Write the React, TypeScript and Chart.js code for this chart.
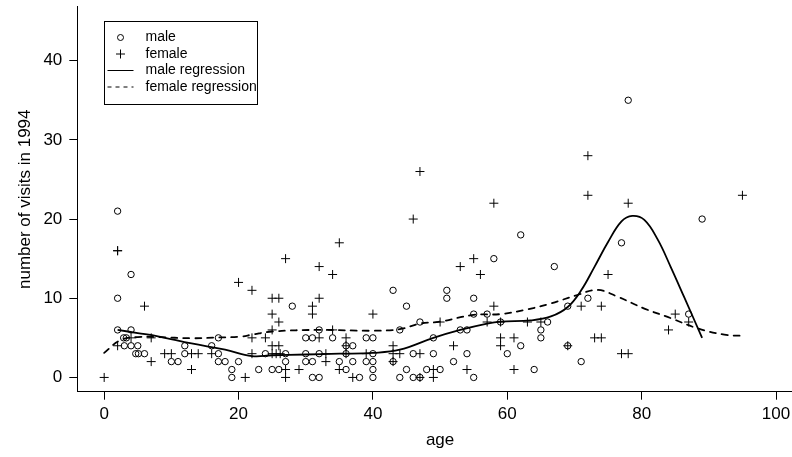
import { useEffect, useRef } from "react";
import { Chart, registerables } from "chart.js";

Chart.register(...registerables);

// ---- data ----
const maleAge = [
  2, 4, 2, 2, 4, 2.9, 3.3, 3, 4, 5, 4.7, 5.1, 6, 12, 12, 10, 11, 16, 17, 17, 17, 18, 20, 19, 19,
  28, 32, 30, 31, 34, 39, 40, 24, 27, 30, 32, 36, 40, 36, 37, 27, 30, 31, 35, 37, 39, 40, 43, 23, 25, 26, 36, 40, 31, 32, 38, 40, 44,
  45, 44, 47, 53, 54, 49, 46, 49, 54, 52, 45, 48, 50, 46, 47, 55, 55, 57, 59, 60, 62, 64, 65, 65, 66, 51, 55,
  51, 62, 58, 67, 72, 69, 43, 69, 71, 87, 77, 78, 89,
];
const maleVisits = [
  21, 13, 10, 6, 6, 5, 5, 4, 4, 4, 3, 3, 3, 4, 3, 2, 2, 4, 5, 3, 2, 2, 2, 1, 0,
  9, 6, 5, 5, 5, 5, 5, 3, 3, 3, 3, 3, 3, 4, 4, 2, 2, 2, 2, 2, 2, 2, 2, 1, 1, 1, 1, 1, 0, 0, 0, 0, 0,
  9, 6, 7, 6, 6, 5, 3, 3, 3, 2, 1, 1, 1, 0, 0, 0, 8, 8, 7, 3, 4, 1, 6, 5, 7, 10, 10,
  11, 18, 15, 14, 10, 9, 11, 4, 2, 8, 17, 35, 20,
];
const femaleAge = [
  0, 2, 4, 7, 6, 7, 9, 10, 13, 14, 16, 13, 21, 2, 2,
  20, 22, 27, 32, 34, 35, 25, 26, 32, 31, 31, 25, 40, 26, 25, 34, 22, 24, 32, 36, 25, 26, 36, 43, 22, 25, 25.6, 26.2, 33, 36, 39, 43, 44, 33, 43, 27, 29, 35, 27, 37,
  47, 46, 58, 55, 53, 56, 58, 57, 59, 63, 65, 50, 59, 61, 59, 52, 47, 61, 49, 54, 47, 49,
  71, 74, 72, 72, 78, 95, 75, 85, 87, 84, 73, 74, 77, 78, 69,
];
const femaleVisits = [
  0, 4, 5, 5, 9, 2, 3, 3, 3, 3, 3, 1, 0, 16, 16,
  12, 11, 15, 14, 13, 17, 10, 10, 10, 9, 8, 8, 8, 7, 6, 6, 5, 5, 5, 5, 4, 4, 4, 4, 3, 3, 3, 3, 3, 3, 3, 3, 3, 2, 2, 1, 1, 1, 0, 0,
  26, 20, 22, 15, 14, 13, 9, 7, 7, 7, 7, 7, 5, 5, 4, 4, 3, 1, 1, 1, 0, 0,
  9, 9, 28, 23, 22, 23, 13, 8, 7, 6, 5, 5, 3, 3, 4,
];
const maleFitAge = [2, 5, 8, 13, 18, 22, 25, 30, 35, 40, 44, 49, 53, 57, 59, 63.5, 66.5, 69, 71, 73, 75, 77, 78.6, 80.4, 82.4, 84.3, 86.3, 89];
const maleFitVisits = [6, 5.6, 5.2, 4.3, 3.5, 2.7, 2.8, 2.9, 3.0, 3.1, 3.5, 5.0, 6.0, 6.8, 7.05, 7.2, 7.7, 8.9, 11.0, 14.0, 17.1, 19.7, 20.4, 19.9, 17.4, 14.0, 10.2, 5.0];
const femaleFitAge = [0, 2.4, 5, 8, 13, 17, 20.3, 22, 25, 32, 40, 44, 47, 50, 55, 59, 63, 66.5, 70.4, 73.4, 76.4, 80.4, 84.3, 88.3, 92.3, 95];
const femaleFitVisits = [3.1, 4.7, 5.1, 5.1, 4.95, 5.05, 5.15, 5.4, 5.8, 6.0, 5.9, 6.1, 6.8, 7.05, 7.9, 8.0, 8.6, 9.35, 10.4, 11.05, 10.2, 8.7, 7.5, 6.2, 5.4, 5.25];
const xTicks = [0, 20, 40, 60, 80, 100];
const yTicks = [0, 10, 20, 30, 40];
const legendLabels = ["male", "female", "male regression", "female regression"];
const xTitle = "age";
const yTitle = "number of visits in 1994";

const FONT = "'Liberation Sans', Arial, Helvetica, sans-serif";

const pts = (xs: number[], ys: number[]) => xs.map((x, i) => ({ x, y: ys[i] }));

const legendPlugin = {
  id: "rLegend",
  afterDraw(chart: any) {
    const ctx = chart.ctx;
    const xs = chart.scales.x;
    const ys = chart.scales.y;
    const area = chart.chartArea;
    ctx.save();
    // bottom box line continues to the edge of the (cropped) plot region
    const by = Math.round(area.bottom - 0.5) + 0.5;
    ctx.strokeStyle = "#000";
    ctx.lineWidth = 1;
    ctx.beginPath();
    ctx.moveTo(area.right - 1, by);
    ctx.lineTo(chart.width, by);
    ctx.stroke();
    // axis titles, centred on the full user range (-4..104, -1.8..46.8)
    ctx.fillStyle = "#000";
    ctx.font = `17px ${FONT}`;
    ctx.textAlign = "center";
    ctx.textBaseline = "middle";
    ctx.fillText(xTitle, xs.getPixelForValue(50), 440);
    ctx.translate(25, ys.getPixelForValue(22.5));
    ctx.rotate(-Math.PI / 2);
    ctx.fillText(yTitle, 0, 0);
    ctx.restore();

    const left = Math.round(xs.getPixelForValue(0)) + 0.5;
    const top = Math.round(ys.getPixelForValue(45)) + 0.5;
    const w = 153;
    const h = 83;
    ctx.save();
    ctx.strokeStyle = "#000";
    ctx.lineWidth = 1;
    ctx.strokeRect(left, top, w, h);
    ctx.font = `14px ${FONT}`;
    ctx.fillStyle = "#000";
    ctx.textBaseline = "middle";
    ctx.textAlign = "left";
    const symX = left + 16;
    legendLabels.forEach((label, i) => {
      const y = top + 16 + i * 16.5;
      ctx.beginPath();
      ctx.setLineDash([]);
      if (i === 0) {
        ctx.arc(symX, y, 3, 0, Math.PI * 2);
        ctx.stroke();
      } else if (i === 1) {
        ctx.moveTo(symX - 4.5, y);
        ctx.lineTo(symX + 4.5, y);
        ctx.moveTo(symX, y - 4.5);
        ctx.lineTo(symX, y + 4.5);
        ctx.stroke();
      } else {
        if (i === 3) ctx.setLineDash([4, 4]);
        ctx.moveTo(left + 3, y);
        ctx.lineTo(left + 29, y);
        ctx.stroke();
      }
      ctx.fillText(label, left + 41, y);
    });
    ctx.restore();
  },
};

export default function App() {
  const ref = useRef<HTMLCanvasElement | null>(null);
  useEffect(() => {
    if (!ref.current) return;
    const chart = new Chart(ref.current, {
      type: "scatter",
      data: {
        datasets: [
          {
            label: "male",
            data: pts(maleAge, maleVisits),
            pointStyle: "circle",
            pointRadius: 3.2,
            borderWidth: 1,
            borderColor: "#000",
            backgroundColor: "rgba(0,0,0,0)",
          },
          {
            label: "female",
            data: pts(femaleAge, femaleVisits),
            pointStyle: "cross",
            pointRadius: 4.5,
            borderWidth: 1,
            borderColor: "#000",
            backgroundColor: "rgba(0,0,0,0)",
          },
          {
            label: "male regression",
            data: pts(maleFitAge, maleFitVisits),
            showLine: true,
            pointRadius: 0,
            borderWidth: 1.8,
            borderColor: "#000",
            tension: 0.4,
          } as any,
          {
            label: "female regression",
            data: pts(femaleFitAge, femaleFitVisits),
            showLine: true,
            pointRadius: 0,
            borderWidth: 1.8,
            borderColor: "#000",
            borderDash: [6, 6],
            borderCapStyle: "round",
            tension: 0.4,
          } as any,
        ],
      },
      options: {
        animation: false,
        responsive: false,
        devicePixelRatio: 1,
        layout: { padding: { left: 0, right: 0, top: 6.8, bottom: 0 } },
        plugins: { legend: { display: false }, tooltip: { enabled: false } },
        scales: {
          x: {
            type: "linear",
            position: "bottom",
            min: -4,
            max: 101.56,
            afterBuildTicks: (s: any) => {
              s.ticks = xTicks.map((v) => ({ value: v }));
            },
            afterFit: (s: any) => {
              s.height = 65.3;
              s.paddingLeft = 0;
              s.paddingRight = 0;
            },
            grid: { display: true, drawOnChartArea: false, drawTicks: true, tickLength: 8, color: "#000", lineWidth: 1 },
            border: { display: true, color: "#000", width: 1 },
            ticks: { color: "#000", font: { family: FONT, size: 17 }, padding: 4, maxRotation: 0, autoSkip: false },
            title: { display: false },
          },
          y: {
            type: "linear",
            min: -1.8,
            max: 46.8,
            afterBuildTicks: (s: any) => {
              s.ticks = yTicks.map((v) => ({ value: v }));
            },
            afterFit: (s: any) => {
              s.width = 77.3;
              s.paddingTop = 0;
              s.paddingBottom = 0;
            },
            grid: { display: true, drawOnChartArea: false, drawTicks: true, tickLength: 8, color: "#000", lineWidth: 1 },
            border: { display: true, color: "#000", width: 1 },
            ticks: { color: "#000", font: { family: FONT, size: 17 }, padding: 7, autoSkip: false },
            title: { display: false },
          },
        },
      } as any,
      plugins: [legendPlugin],
    });
    return () => chart.destroy();
  }, []);
  return (
    <div style={{ position: "fixed", left: 0, top: 0, width: 792, height: 457, background: "#fff" }}>
      <canvas ref={ref} width={792} height={457} />
    </div>
  );
}
